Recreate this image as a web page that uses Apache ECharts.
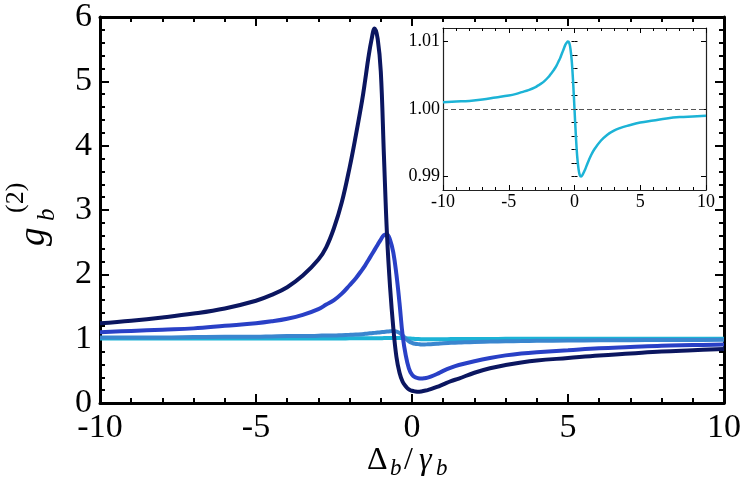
<!DOCTYPE html>
<html>
<head>
<meta charset="utf-8">
<script src="https://cdn.jsdelivr.net/npm/echarts@6/dist/echarts.min.js"></script>
<style>
  html, body { margin: 0; padding: 0; background: #fff; }
  #chart { width: 747px; height: 488px; }
  .warm { position: absolute; left: -9999px; top: 0; font-family: 'Liberation Serif'; }
</style>
</head>
<body>
<span class="warm">g 1.01 Δ <i>γ b</i></span>
<div id="chart"></div>
<script>
// detuning grid (Delta_b / gamma_b), shared by every curve
const detuning = [-10, -9, -8, -7, -6, -5, -4.5, -4, -3.5, -3,
  -2.75, -2.5, -2.25, -2,
  -1.8, -1.6, -1.5, -1.4, -1.3, -1.2, -1.1, -1,
  -0.9, -0.8, -0.7, -0.6, -0.5, -0.4, -0.3, -0.2, -0.1,
  0,
  0.1, 0.2, 0.3, 0.4, 0.5, 0.6,
  0.8, 1, 1.25, 1.5,
  2, 2.5, 3, 3.5, 4,
  5, 6, 7, 8, 9, 10]

// g_b^(2), one list per curve
const g2Dark = [1.24, 1.28, 1.33, 1.39, 1.47, 1.59, 1.68, 1.80, 1.98, 2.23,
  2.42, 2.72, 3.12, 3.66,
  4.16, 4.70, 5.02, 5.36, 5.64, 5.82, 5.66, 5.15,
  3.85, 2.60, 1.78, 1.17, 0.72, 0.47, 0.33, 0.26, 0.21,
  0.19,
  0.18, 0.175, 0.18, 0.19, 0.20, 0.215,
  0.25, 0.29, 0.34, 0.38,
  0.47, 0.54, 0.59, 0.63, 0.66,
  0.70, 0.74, 0.77, 0.80, 0.82, 0.84]

const g2Medium = [1.10, 1.12, 1.14, 1.16, 1.20, 1.24, 1.27, 1.31, 1.37, 1.46,
  1.53, 1.60, 1.70, 1.83,
  1.94, 2.07, 2.14, 2.22, 2.30, 2.38, 2.46, 2.54,
  2.61, 2.62, 2.53, 2.34, 2.00, 1.55, 1.05, 0.74, 0.54,
  0.44,
  0.40, 0.385, 0.38, 0.385, 0.395, 0.41,
  0.45, 0.50, 0.55, 0.59,
  0.65, 0.70, 0.74, 0.77, 0.79,
  0.82, 0.85, 0.87, 0.89, 0.90, 0.91]

const g2Light = [1.02, 1.02, 1.02, 1.025, 1.03, 1.03, 1.035, 1.04, 1.04, 1.045,
  1.05, 1.05, 1.055, 1.06,
  1.065, 1.07, 1.075, 1.08, 1.085, 1.09, 1.095, 1.10,
  1.105, 1.11, 1.115, 1.12, 1.11, 1.09, 1.05, 1.00, 0.96,
  0.935,
  0.92, 0.915, 0.91, 0.91, 0.912, 0.915,
  0.92, 0.93, 0.935, 0.94,
  0.95, 0.955, 0.96, 0.963, 0.966,
  0.97, 0.974, 0.977, 0.979, 0.98, 0.982]

const g2Cyan = [1.0010, 1.0011, 1.0012, 1.0014, 1.0017, 1.0020, 1.0022, 1.0025, 1.0028, 1.0032,
  1.0035, 1.0038, 1.0042, 1.0047,
  1.0052, 1.0057, 1.0060, 1.0063, 1.0067, 1.0071, 1.0075, 1.0080,
  1.0085, 1.0090, 1.0095, 1.0098, 1.0100, 1.0098, 1.0088, 1.0069, 1.0038,
  1.0000,
  0.9962, 0.9931, 0.9912, 0.9902, 0.9900, 0.9902,
  0.9910, 0.9920, 0.9931, 0.9940,
  0.9953, 0.9962, 0.9968, 0.9972, 0.9975,
  0.9980, 0.9983, 0.9986, 0.9988, 0.9989, 0.9990]

// tick labels of the inset y axis
const insetYLabels = [0.99, 1.00, 1.01]
const insetYMinor = [0.990, 0.992, 0.994, 0.996, 0.998, 1.000, 1.002, 1.004, 1.006, 1.008, 1.010]

const SERIF = 'Liberation Serif'
const pairs = ys => detuning.map((x, i) => [x, ys[i]])

const chart = echarts.init(document.getElementById('chart'))

// frame axis helper, ticks pointing inwards like the original plot
const frameAxis = (extra, thin) => {
  const w = thin ? 1 : 2
  return Object.assign({
    type: 'value',
    axisLine: { show: true, onZero: false, lineStyle: { color: thin ? '#222' : '#000', width: thin ? 1.2 : 3 } },
    axisTick: { show: true, inside: true, length: thin ? 5 : 9, lineStyle: { color: '#000', width: w } },
    minorTick: { show: true, splitNumber: 5, length: thin ? 3 : 5, lineStyle: { color: '#000', width: w } },
    splitLine: { show: false },
    minorSplitLine: { show: false },
    axisLabel: { show: false }
  }, extra)
}

const mainLabel = () => ({ show: true, fontSize: 34, fontFamily: SERIF, color: '#000', margin: 8 })
const insetLabel = () => ({ show: true, fontSize: 18, fontFamily: SERIF, color: '#000', margin: 3 })

const txt = (x, y, text, size, italic, rot) => ({
  type: 'text', x: x, y: y, rotation: rot || 0,
  style: { text: text, fontSize: size, fontFamily: SERIF, fontStyle: italic ? 'italic' : 'normal',
    fill: '#000', textAlign: 'left', textVerticalAlign: 'middle' }
})

const curve = (name, ys, color) => ({
  name: name, type: 'line', xAxisIndex: 0, yAxisIndex: 0, data: pairs(ys),
  showSymbol: false, smooth: 0.4, lineStyle: { color: color, width: 4 }
})

const insetTicks = (vals, len) => ({ show: true, inside: true, length: len, customValues: vals,
  lineStyle: { color: '#000', width: 1 } })

const option = {
  animation: false,
  grid: [
    { left: 100, right: 23, top: 16, bottom: 85 },
    { left: 443, top: 28, width: 263, height: 162, show: true, backgroundColor: '#fff', borderWidth: 0 }
  ],
  xAxis: [
    frameAxis({ gridIndex: 0, position: 'bottom', min: -10, max: 10, interval: 5, axisLabel: mainLabel() }),
    frameAxis({ gridIndex: 0, position: 'top', min: -10, max: 10, interval: 5 }),
    frameAxis({ gridIndex: 1, position: 'bottom', min: -10, max: 10, interval: 5, axisLabel: insetLabel() }, true),
    frameAxis({ gridIndex: 1, position: 'top', min: -10, max: 10, interval: 5 }, true)
  ],
  yAxis: [
    frameAxis({ gridIndex: 0, position: 'left', min: 0, max: 6, interval: 1, axisLabel: mainLabel() }),
    frameAxis({ gridIndex: 0, position: 'right', min: 0, max: 6, interval: 1 }),
    frameAxis({ gridIndex: 1, position: 'left', min: 0.988, max: 1.012,
      axisLabel: Object.assign(insetLabel(), { customValues: insetYLabels, formatter: v => v.toFixed(2) }),
      axisTick: insetTicks(insetYLabels, 5), minorTick: { show: false } }, true),
    frameAxis({ gridIndex: 1, position: 'left', min: 0.988, max: 1.012, axisLine: { show: false },
      axisTick: insetTicks(insetYMinor, 3), minorTick: { show: false } }, true),
    frameAxis({ gridIndex: 1, position: 'right', min: 0.988, max: 1.012,
      axisTick: insetTicks(insetYLabels, 5), minorTick: { show: false } }, true),
    frameAxis({ gridIndex: 1, position: 'right', min: 0.988, max: 1.012, axisLine: { show: false },
      axisTick: insetTicks(insetYMinor, 3), minorTick: { show: false } }, true)
  ],
  series: [
    curve('cyan', g2Cyan, '#1cb3d6'),
    curve('light', g2Light, '#3a86cf'),
    curve('medium', g2Medium, '#2940c6'),
    curve('dark', g2Dark, '#0b1660'),
    // inset: the weakest curve, zoomed
    { name: 'inset', type: 'line', xAxisIndex: 2, yAxisIndex: 2, data: pairs(g2Cyan),
      showSymbol: false, smooth: 0.4, lineStyle: { color: '#1cb3d6', width: 2.5 },
      markLine: {
        silent: true, symbol: 'none', label: { show: false },
        lineStyle: { type: [5, 3], color: '#555', width: 1 },
        data: [{ yAxis: 1 }]
      } }
  ],
  graphic: [
    // y axis name  g_b^(2)
    txt(34, 246, 'g', 37, true, Math.PI / 2),
    txt(47, 221, 'b', 25, true, Math.PI / 2),
    txt(16, 213, '(2)', 26, false, Math.PI / 2),
    // x axis name  Δ_b / γ_b
    txt(367, 461, 'Δ', 32, false),
    txt(390, 469, 'b', 23, true),
    txt(404, 461, '/', 32, false),
    txt(419, 461, 'γ', 32, true),
    txt(436, 469, 'b', 23, true)
  ]
}

chart.setOption(option)

// redraw once the serif faces are surely available
if (document.fonts && document.fonts.load) {
  Promise.all([
    document.fonts.load('34px "Liberation Serif"'),
    document.fonts.load('italic 34px "Liberation Serif"')
  ]).then(() => {
    chart.clear()
    chart.setOption(option)
  }).catch(() => {})
}
</script>
</body>
</html>
